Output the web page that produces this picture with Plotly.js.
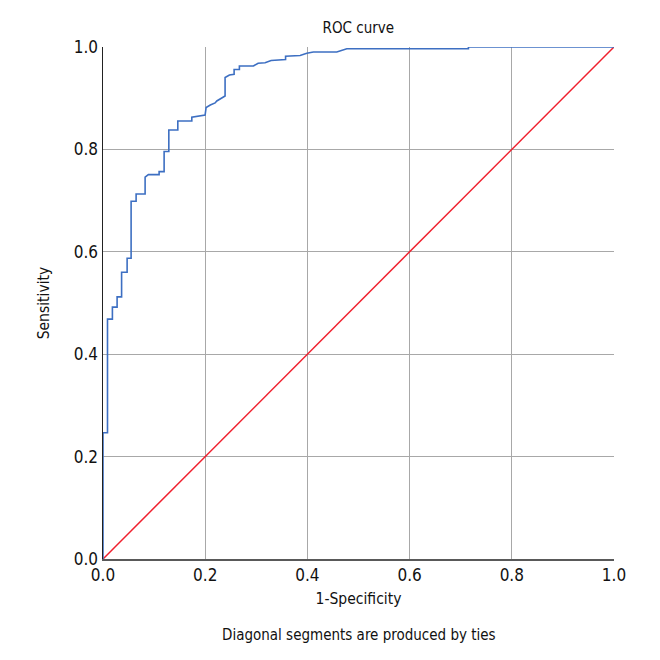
<!DOCTYPE html>
<html>
<head>
<meta charset="utf-8">
<script src="https://cdn.plot.ly/plotly-3.0.1.min.js"></script>
<style>body{margin:0;background:#fff}#chart{width:660px;height:660px}</style>
</head>
<body>
<div id="chart"></div>
<script>
// ROC curve vertices (1-Specificity, Sensitivity)
const rocFpr = [0, 0, 0.0088, 0.0088, 0.0184, 0.0184, 0.0276, 0.0276, 0.0364, 0.0364, 0.0472, 0.0472, 0.055, 0.055,
  0.0648, 0.0648, 0.0824, 0.0824, 0.0888, 0.1098, 0.1098, 0.1196, 0.1196, 0.1288, 0.1288, 0.1464, 0.1464, 0.1738, 0.1738,
  0.1998, 0.2018, 0.21, 0.2194, 0.2227, 0.2389, 0.2389, 0.2474, 0.2566, 0.2566, 0.2669, 0.2669, 0.2943, 0.3035, 0.3172,
  0.329, 0.3573, 0.3573, 0.3857, 0.3988, 0.4117, 0.4575, 0.4771, 0.7151, 0.7151, 1.0];
const rocTpr = [0, 0.2465, 0.2465, 0.4685, 0.4685, 0.4919, 0.4919, 0.512, 0.512, 0.5602, 0.5602, 0.5875, 0.5875, 0.6988,
  0.6988, 0.713, 0.713, 0.7457, 0.7508, 0.7508, 0.7566, 0.7566, 0.796, 0.796, 0.838, 0.838, 0.8556, 0.8556, 0.8628,
  0.8672, 0.8819, 0.8868, 0.8907, 0.8946, 0.9044, 0.9405, 0.9453, 0.9467, 0.9561, 0.9561, 0.9629, 0.9629, 0.9682, 0.9693,
  0.9737, 0.9756, 0.9818, 0.9834, 0.9877, 0.9902, 0.9902, 0.9965, 0.9965, 1.0, 1.0];
// Reference line
const refX = [0, 1];
const refY = [0, 1];
const tickVals = [0, 0.2, 0.4, 0.6, 0.8, 1.0];
const tickText = ["0.0", "0.2", "0.4", "0.6", "0.8", "1.0"];

const FONT = '"DejaVu Sans Condensed", "Liberation Sans Narrow", "Arial Narrow", sans-serif';

const data = [
  {x: refX, y: refY, mode: 'lines', type: 'scatter', line: {color: '#f0202e', width: 1.5}, hoverinfo: 'skip', cliponaxis: false},
  {x: rocFpr, y: rocTpr, mode: 'lines', type: 'scatter', line: {color: '#3d6fc2', width: 1.6}, hoverinfo: 'skip', cliponaxis: false}
];

const layout = {
  width: 660, height: 660,
  margin: {l: 103, r: 46, t: 47, b: 101},
  paper_bgcolor: '#ffffff', plot_bgcolor: '#ffffff',
  showlegend: false,
  font: {family: FONT, color: '#111111', size: 15},
  title: {text: 'ROC curve', font: {family: FONT, size: 15, color: '#111'}, x: 0.543, xanchor: 'center', y: 1 - 28/660, yanchor: 'middle', yref: 'container'},
  xaxis: {
    range: [0, 1], tickvals: tickVals, ticktext: tickText, ticks: '',
    showgrid: true, gridcolor: '#a8a8a8', gridwidth: 1,
    showline: true, linecolor: '#595959', linewidth: 2, zeroline: false,
    tickfont: {family: FONT, size: 17, color: '#111'},
    title: {text: '1-Specificity', font: {family: FONT, size: 15.5, color: '#111'}, standoff: 9},
    automargin: false, fixedrange: true
  },
  yaxis: {
    range: [0, 1], tickvals: tickVals, ticktext: tickText, ticks: '',
    showgrid: true, gridcolor: '#a8a8a8', gridwidth: 1,
    showline: true, linecolor: '#222222', linewidth: 1.5, zeroline: false,
    tickfont: {family: FONT, size: 17, color: '#111'},
    title: {text: 'Sensitivity', font: {family: FONT, size: 15.5, color: '#111'}, standoff: 20},
    automargin: false, fixedrange: true
  },
  annotations: [
    {text: 'Diagonal segments are produced by ties', xref: 'paper', yref: 'paper', x: 0.5, y: -76/512, xanchor: 'center', yanchor: 'middle', showarrow: false, font: {family: FONT, size: 15, color: '#111'}}
  ]
};

Plotly.newPlot('chart', data, layout, {displayModeBar: false, staticPlot: true});
</script>
</body>
</html>
